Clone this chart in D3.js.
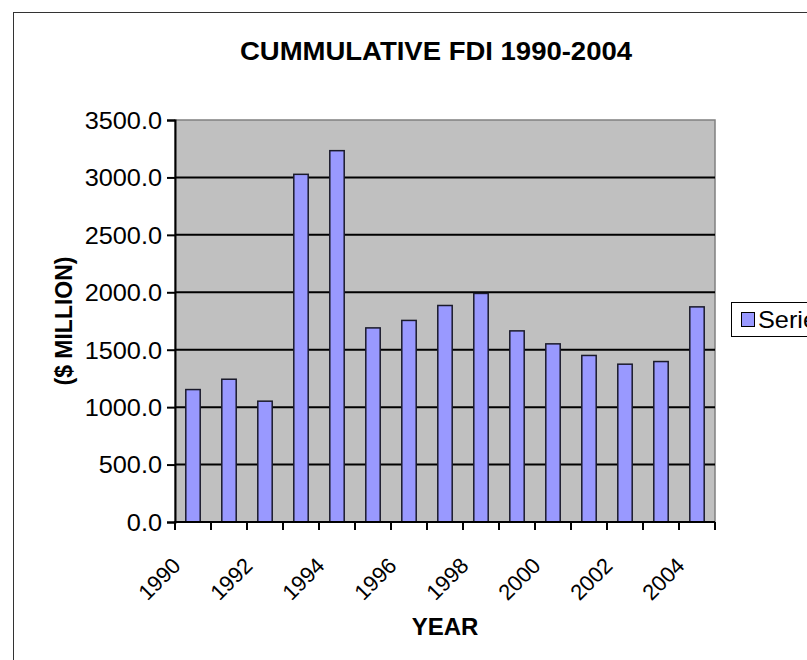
<!DOCTYPE html>
<html>
<head>
<meta charset="utf-8">
<script src="https://cdn.jsdelivr.net/npm/d3@7"></script>
<style>
  body { margin: 0; background: #fff; }
  text { font-family: "Liberation Sans", Arial, sans-serif; fill: #000; }
</style>
</head>
<body>
<div class="fdi_chart"></div>
<script>
const years = [1990, 1991, 1992, 1993, 1994, 1995, 1996, 1997, 1998, 1999, 2000, 2001, 2002, 2003, 2004]
const fdiValues = [1153, 1243, 1052, 3027, 3233, 1690, 1755, 1885, 1990, 1664, 1551, 1450, 1374, 1397, 1873]
const yTicks = [0, 500, 1000, 1500, 2000, 2500, 3000, 3500]
const xTickLabels = [1990, 1992, 1994, 1996, 1998, 2000, 2002, 2004]
const seriesName = 'Series1'

const width = 807
const height = 660
const plot = {left: 175, right: 715, top: 120, bottom: 522}
const stretch = 1.1  // text in the picture is a bit wider than plain Arial

const svg = d3.select('.fdi_chart').append('svg')
  .attr('width', width)
  .attr('height', height)

// outer chart border
svg.append('rect')
  .attr('x', 13.5).attr('y', 12.5)
  .attr('width', 900).attr('height', 700)
  .attr('fill', '#fff')
  .attr('stroke', '#333')

const x = d3.scaleBand().domain(years).range([plot.left, plot.right]).padding(0)
const y = d3.scaleLinear().domain([0, 3500]).range([plot.bottom, plot.top])

// plot area
svg.append('rect')
  .attr('x', plot.left).attr('y', plot.top)
  .attr('width', plot.right - plot.left).attr('height', plot.bottom - plot.top)
  .attr('fill', '#c0c0c0')
  .attr('stroke', '#808080')
  .attr('stroke-width', 1.5)

// gridlines
svg.append('g').selectAll('line')
  .data(yTicks.filter(d => d > 0 && d < 3500))
  .enter().append('line')
  .attr('x1', plot.left).attr('x2', plot.right)
  .attr('y1', d => y(d)).attr('y2', d => y(d))
  .attr('stroke', '#000')
  .attr('stroke-width', 2)

// bars
const bw = x.bandwidth()
svg.append('g').selectAll('rect')
  .data(years)
  .enter().append('rect')
  .attr('x', d => x(d) + bw * 0.3)
  .attr('y', (d, i) => y(fdiValues[i]))
  .attr('width', bw * 0.4)
  .attr('height', (d, i) => y(0) - y(fdiValues[i]))
  .attr('fill', '#9999ff')
  .attr('stroke', '#1a1a2a')
  .attr('stroke-width', 1.5)

// y axis
const yAxis = svg.append('g')
  .attr('transform', 'translate(' + plot.left + ',0)')
  .call(d3.axisLeft(y).tickValues(yTicks).tickSize(8).tickFormat(d3.format('.1f')))
yAxis.select('.domain').attr('stroke', '#000').attr('stroke-width', 2)
yAxis.selectAll('.tick line').attr('stroke', '#000').attr('stroke-width', 2)
yAxis.selectAll('.tick text')
  .attr('x', -13 / stretch)
  .attr('dy', '0.36em')
  .attr('transform', 'scale(' + stretch + ',1)')
  .style('font-family', '"Liberation Sans", Arial, sans-serif')
  .style('font-size', '23px')
  .attr('fill', '#000')

// x axis line + ticks at category boundaries
const xg = svg.append('g')
xg.append('line')
  .attr('x1', plot.left - 1).attr('x2', plot.right)
  .attr('y1', plot.bottom).attr('y2', plot.bottom)
  .attr('stroke', '#000').attr('stroke-width', 2)
xg.selectAll('.xt')
  .data(years.concat([null]))
  .enter().append('line')
  .attr('class', 'xt')
  .attr('x1', (d, i) => plot.left + i * x.step())
  .attr('x2', (d, i) => plot.left + i * x.step())
  .attr('y1', plot.bottom).attr('y2', plot.bottom + 8)
  .attr('stroke', '#000').attr('stroke-width', 2)

xg.selectAll('.xl')
  .data(xTickLabels)
  .enter().append('text')
  .attr('class', 'xl')
  .attr('transform', d => {
    const cx = x(d) + bw / 2 - 11
    return 'translate(' + cx + ',' + (plot.bottom + 45) + ') rotate(-45)'
  })
  .attr('text-anchor', 'end')
  .style('font-size', '22px')
  .text(d => d)

// title
svg.append('text')
  .attr('transform', 'translate(436,60) scale(' + stretch + ',1)')
  .attr('text-anchor', 'middle')
  .style('font-size', '25px')
  .style('font-weight', 'bold')
  .text('CUMMULATIVE FDI 1990-2004')

// axis titles
svg.append('text')
  .attr('transform', 'translate(' + (plot.left + plot.right) / 2 + ',635)')
  .attr('text-anchor', 'middle')
  .style('font-size', '24px')
  .style('font-weight', 'bold')
  .text('YEAR')

svg.append('text')
  .attr('transform', 'translate(72,' + (plot.top + plot.bottom) / 2 + ') rotate(-90)')
  .attr('text-anchor', 'middle')
  .style('font-size', '23px')
  .style('font-weight', 'bold')
  .text('($ MILLION)')

// legend (runs off the right edge, as in the original picture)
const legend = svg.append('g')
legend.append('rect')
  .attr('x', 731.5).attr('y', 302.5)
  .attr('width', 120).attr('height', 34)
  .attr('fill', '#fff').attr('stroke', '#000')
legend.append('rect')
  .attr('x', 741.5).attr('y', 312.5)
  .attr('width', 13).attr('height', 14)
  .attr('fill', '#9999ff').attr('stroke', '#000')
legend.append('text')
  .attr('transform', 'translate(758,328) scale(' + stretch + ',1)')
  .style('font-size', '23px')
  .text(seriesName)
</script>
</body>
</html>
